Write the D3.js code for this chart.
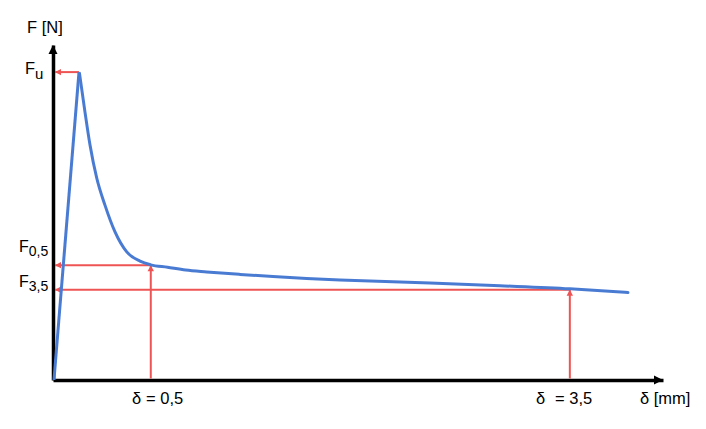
<!DOCTYPE html>
<html><head><meta charset="utf-8">
<script src="https://cdn.jsdelivr.net/npm/d3@7/dist/d3.min.js"></script>
<style>body{margin:0;background:#fff}text{font-family:"Liberation Sans",Arial,sans-serif;fill:#000}</style>
</head><body><svg id="c" width="706" height="429"></svg>
<script>
// ---- data (δ in mm, F in arbitrary N units) ----
const riseDelta = [-0.193, -0.014];
const riseForce = [0, 100];
const decayDelta = [-0.01, 0.029, 0.065, 0.113, 0.172, 0.244, 0.328, 0.423, 0.5, 0.62, 0.75, 0.900, 1.139, 1.375, 1.616, 1.855, 2.499, 3.0, 3.5, 3.916];
const decayForce = [99.5, 87.0, 76.3, 65.6, 56.8, 48.1, 41.6, 38.6, 37.4, 36.6, 35.7, 35.1, 34.3, 33.6, 33.0, 32.5, 31.5, 30.6, 29.6, 28.4];
const peakDelta = -0.014, peakForce = 100;
const refDelta = [0.5, 3.5];
const refForce = [37.3, 29.3];
const xDomain = [-0.2, 4.167];
const yDomain = [0, 108.8];

const svg = d3.select("#c");
const x = d3.scaleLinear().domain(xDomain).range([53, 663]);
const y = d3.scaleLinear().domain(yDomain).range([380, 45]);

const BLUE = "#4a7bd3", RED = "#ef5454";

// axes (domain lines only)
svg.append("g").attr("transform", `translate(0,${y(0)})`)
  .call(d3.axisBottom(x).tickValues([]).tickSizeOuter(0))
  .call(g => g.select(".domain").attr("stroke", "#000").attr("stroke-width", 3.5));
svg.append("g").attr("transform", `translate(${x(xDomain[0])},0)`)
  .call(d3.axisLeft(y).tickValues([]).tickSizeOuter(0))
  .call(g => g.select(".domain").attr("stroke", "#000").attr("stroke-width", 3.5));

// axis arrowheads
const xt = x(xDomain[1]), yt = y(yDomain[1]), x0 = x(xDomain[0]), y0 = y(0);
svg.append("path").attr("d", `M${xt},${y0} L${xt-9},${y0-4.5} L${xt-9},${y0+4.5} Z`).attr("fill", "#000");
svg.append("path").attr("d", `M${x0},${yt} L${x0-4.5},${yt+9} L${x0+4.5},${yt+9} Z`).attr("fill", "#000");

// red reference arrows
function arrow(x1, y1, x2, y2) {
  svg.append("line").attr("x1", x1).attr("y1", y1).attr("x2", x2).attr("y2", y2)
    .attr("stroke", RED).attr("stroke-width", 2);
  const a = Math.atan2(y2 - y1, x2 - x1), L = 6, W = 3.2;
  const bx = x2 - L * Math.cos(a), by = y2 - L * Math.sin(a);
  const px = -Math.sin(a) * W, py = Math.cos(a) * W;
  svg.append("path").attr("d", `M${x2},${y2} L${bx+px},${by+py} L${bx-px},${by-py} Z`).attr("fill", RED);
}
const axisEdge = x0 + 2;
arrow(x(peakDelta), y(peakForce), axisEdge, y(peakForce));
refDelta.forEach((d, i) => {
  arrow(x(d), y(refForce[i]), axisEdge, y(refForce[i]));
  arrow(x(d), y0 - 1.5, x(d), y(refForce[i]));
});

// blue curve
const rise = riseDelta.map((d, i) => [d, riseForce[i]]);
const decay = decayDelta.map((d, i) => [d, decayForce[i]]);
svg.append("path").datum(rise)
  .attr("d", d3.line().x(d => x(d[0])).y(d => y(d[1])))
  .attr("fill", "none").attr("stroke", BLUE).attr("stroke-width", 3).attr("stroke-linejoin", "round");
svg.append("path").datum(decay)
  .attr("d", d3.line().x(d => x(d[0])).y(d => y(d[1])).curve(d3.curveMonotoneX))
  .attr("fill", "none").attr("stroke", BLUE).attr("stroke-width", 3).attr("stroke-linecap", "round");

// labels
function label(xp, yp, main, sub, size, subSize, dy) {
  const t = svg.append("text").attr("x", xp).attr("y", yp).attr("font-size", size);
  t.append("tspan").text(main);
  if (sub) t.append("tspan").attr("font-size", subSize).attr("dy", dy).text(sub);
}
label(27, 33, "F [N]", null, 16.5);
label(25, 74, "F", "u", 16.5, 15, 4.5);
label(19, 252, "F", "0,5", 16, 14, 4);
label(19, 287, "F", "3,5", 16, 14, 4);
svg.append("text").attr("x", 132).attr("y", 404).attr("font-size", 16.5).text("δ");
svg.append("text").attr("x", 146).attr("y", 404).attr("font-size", 16.5).text("= 0,5");
svg.append("text").attr("x", 536).attr("y", 404).attr("font-size", 16.5).text("δ");
svg.append("text").attr("x", 555).attr("y", 404).attr("font-size", 16.5).text("= 3,5");
svg.append("text").attr("x", 640).attr("y", 404).attr("font-size", 16.5).text("δ [mm]");
</script></body></html>
